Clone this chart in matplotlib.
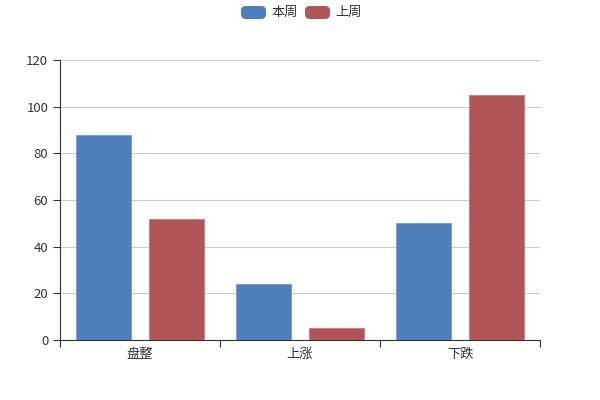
import matplotlib as mpl
from matplotlib import pyplot as plt
from matplotlib.patches import FancyBboxPatch
import numpy as np

plt.rcParams['font.family'] = ['Noto Sans CJK SC', 'DejaVu Sans']

categories = ["盘整", "上涨", "下跌"]
this_week = [88, 24, 50]
last_week = [52, 5, 105]
series_names = ["本周", "上周"]
colors = ["#4e7fbb", "#b05558"]

fig = plt.figure(figsize=(6, 4), dpi=100)
# axes box: x 60..540 px, y 60..340 px
ax = fig.add_axes([60/600, 60/400, 480/600, 280/400])

x = np.arange(len(categories))
bw = 0.344
off = 0.228
ax.bar(x - off, this_week, bw, color=colors[0], edgecolor="#7aa0cf", linewidth=0.8, zorder=3)
ax.bar(x + off, last_week, bw, color=colors[1], edgecolor="#c98386", linewidth=0.8, zorder=3)

ax.set_xlim(-0.5, 2.5)
ax.set_ylim(0, 120)
ax.set_yticks(range(0, 121, 20))
ax.yaxis.grid(True, color="#cccccc", linewidth=0.8, zorder=0)
ax.set_axisbelow(True)

# category labels centered, ticks on the boundaries
ax.set_xticks([-0.5, 0.5, 1.5, 2.5])
ax.set_xticklabels([])
ax.set_xticks(x, minor=True)
ax.set_xticklabels(categories, minor=True)
ax.tick_params(axis="x", which="minor", length=0, pad=6, labelsize=9.5, labelcolor="#333333")
ax.tick_params(axis="x", which="major", length=5, color="#333333")
ax.tick_params(axis="y", length=5, color="#333333", labelsize=9.5, labelcolor="#333333")

for s in ["top", "right"]:
    ax.spines[s].set_visible(False)
ax.spines["left"].set_color("#333333")
ax.spines["bottom"].set_color("#333333")

# legend at top center, rounded keys like echarts
for i, (name, c) in enumerate(zip(series_names, colors)):
    x0 = 241 + i * 64
    key = FancyBboxPatch((x0/600, (400-19)/400), 25/600, 13/400,
                         boxstyle="round,pad=0,rounding_size=0.008",
                         mutation_aspect=1.5,
                         transform=fig.transFigure, facecolor=c, edgecolor="none")
    fig.patches.append(key)
    fig.text((x0 + 30)/600, (400-12.5)/400, name, ha="left", va="center",
             fontsize=9.5, color="#333333")

fig.savefig("out.png", dpi=100)
